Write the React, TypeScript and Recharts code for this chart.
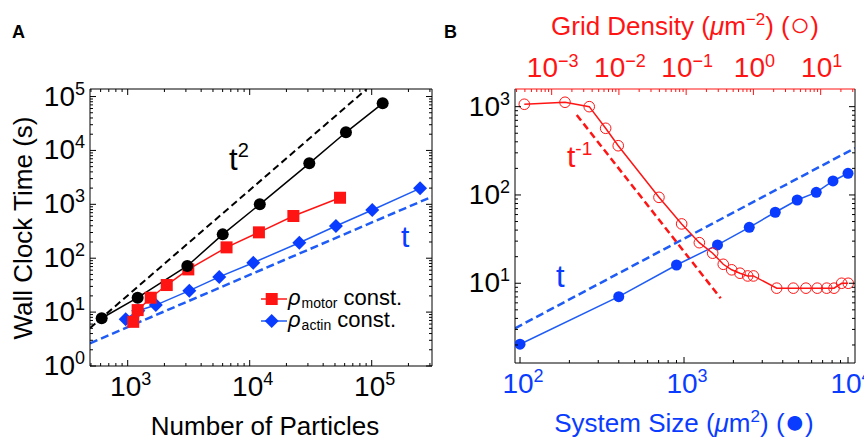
import React from "react";
import { ComposedChart, Line, XAxis, YAxis } from "recharts";

const FONT = "'Liberation Sans', Arial, Helvetica, sans-serif";
const RED = "#ff1414";
const BLUE = "#0a3cff";
const BLUE_LINE = "#1f5cf5";

// Panel A: wall clock time (s) vs number of particles
const quadN = [612, 1207, 3080, 6010, 12100, 30800, 61500, 123000];
const quadTime = [7.7, 18.5, 71.7, 277, 1000, 5760, 21700, 74800];
const motorN = [1110, 1207, 1545, 2090, 3140, 6460, 11900, 22800, 55000];
const motorTime = [6.6, 10.9, 18.5, 31.8, 62, 159, 302, 607, 1325];
const actinN = [963, 1220, 1700, 3200, 5630, 10700, 25500, 50900, 101000, 249000];
const actinTime = [7.4, 10.6, 13.5, 25, 45, 82.5, 194, 396, 784, 1980];
const squareGuideN = [491, 91000];
const squareGuideTime = [5.07, 138000];
const linearGuideN = [491, 312000];
const linearGuideTime = [2.64, 1384];

// Panel B: wall clock time vs system size (bottom) and grid density (top)
const systemSize = [100, 400, 900, 1600, 2500, 3600, 4900, 6400, 8100, 10000];
const sizeTime = [2.04, 7.05, 16.1, 27.2, 43, 63.7, 87.7, 107, 144, 176];
const gridDensity = [
  3.92e-4, 1.58e-3, 3.62e-3, 6.35e-3, 9.77e-3, 0.0394, 0.0857, 0.157, 0.248, 0.356, 0.475,
  0.631, 0.822, 1.0, 2.22, 3.92, 6.04, 8.9, 12.3, 15.8, 20.5, 25.7
];
const densityTime = [
  1065, 1122, 1000, 569, 361, 94, 47, 28.8, 21.9, 16.4, 14.2, 13, 12.1, 12.1, 8.8, 8.8, 8.8, 8.8,
  8.8, 8.8, 10, 10
];
const inverseGuideDensity = [2.36e-3, 0.326];
const inverseGuideTime = [805, 6.76];
const sizeGuideArea = [93.2, 11030];
const sizeGuideTime = [3.09, 340];

const domainAx: [number, number] = [491, 312000];
const domainAy: [number, number] = [1, 138000];
const domainBx: [number, number] = [93.2, 11030];
const domainBtop: [number, number] = [2.85e-4, 32.4];
const domainBy: [number, number] = [1.25, 1585];

const pts = (xs: number[], ys: number[]) => xs.map((x, i) => ({ x, y: ys[i] }));

function logTicks([lo, hi]: [number, number]) {
  const out: number[] = [];
  for (let d = Math.floor(Math.log10(lo)); d <= Math.ceil(Math.log10(hi)); d++) {
    for (let k = 1; k <= 9; k++) {
      const v = k * Math.pow(10, d);
      if (v >= lo && v <= hi) out.push(v);
    }
  }
  return out;
}

type Side = "left" | "right" | "top" | "bottom";

function logTick(side: Side, labelColor: string | null, markColor: string) {
  return (props: any) => {
    const { x, y, payload } = props;
    const v = Number(payload.value);
    const lg = Math.log10(v);
    const e = Math.round(lg);
    const major = Math.abs(lg - e) < 1e-6;
    const len = major ? 6 : 3;
    const dx = side === "left" ? len : side === "right" ? -len : 0;
    const dy = side === "bottom" ? -len : side === "top" ? len : 0;
    const exp = e < 0 ? "\u2212" + -e : String(e);
    let label = null;
    if (labelColor && major) {
      const common = { fill: labelColor, fontSize: 28, fontFamily: FONT };
      if (side === "left") {
        label = (
          <text x={x - 5} y={y + 9} textAnchor="end" {...common}>
            10<tspan dy={-11} fontSize={18}>{exp}</tspan>
          </text>
        );
      } else if (side === "bottom") {
        label = (
          <text x={x + 3} y={y + 30} textAnchor="middle" {...common}>
            10<tspan dy={-11} fontSize={18}>{exp}</tspan>
          </text>
        );
      } else if (side === "top") {
        label = (
          <text x={x + 1} y={y - 12} textAnchor="middle" {...common}>
            10<tspan dy={-10} fontSize={18}>{exp}</tspan>
          </text>
        );
      }
    }
    return (
      <g>
        <line x1={x} y1={y} x2={x + dx} y2={y + dy} stroke={markColor} strokeWidth={1} />
        {label}
      </g>
    );
  };
}

const axisCommon = {
  type: "number" as const,
  scale: "log" as const,
  allowDataOverflow: true,
  interval: 0 as const,
  tickSize: 0,
  tickMargin: 0,
  tickLine: false
};

const squareDot = (p: any) => (
  <rect key={`sq${p.index}`} x={p.cx - 6} y={p.cy - 6} width={12} height={12} fill={RED} />
);
const diamondDot = (p: any) => (
  <polygon
    key={`di${p.index}`}
    points={`${p.cx},${p.cy - 7} ${p.cx + 7},${p.cy} ${p.cx},${p.cy + 7} ${p.cx - 7},${p.cy}`}
    fill={BLUE}
  />
);

function PanelA() {
  return (
    <ComposedChart width={434} height={442} margin={{ top: 0, right: 0, bottom: 0, left: 0 }}>
      <XAxis
        {...axisCommon}
        xAxisId="b"
        orientation="bottom"
        dataKey="x"
        domain={domainAx}
        height={76}
        ticks={logTicks(domainAx)}
        axisLine={{ stroke: "#000" }}
        tick={logTick("bottom", "#000", "#000")}
      />
      <XAxis
        {...axisCommon}
        xAxisId="t"
        orientation="top"
        dataKey="x"
        domain={domainAx}
        height={89}
        ticks={logTicks(domainAx)}
        axisLine={{ stroke: "#000" }}
        tick={logTick("top", null, "#000")}
      />
      <YAxis
        {...axisCommon}
        yAxisId="l"
        orientation="left"
        domain={domainAy}
        width={90}
        ticks={logTicks(domainAy)}
        axisLine={{ stroke: "#000" }}
        tick={logTick("left", "#000", "#000")}
      />
      <YAxis
        {...axisCommon}
        yAxisId="r"
        orientation="right"
        domain={domainAy}
        width={2}
        ticks={logTicks(domainAy)}
        axisLine={{ stroke: "#000" }}
        tick={logTick("right", null, "#000")}
      />
      <Line
        xAxisId="b"
        yAxisId="l"
        data={pts(squareGuideN, squareGuideTime)}
        dataKey="y"
        stroke="#000"
        strokeWidth={2}
        strokeDasharray="7 4"
        dot={false}
        activeDot={false}
        isAnimationActive={false}
      />
      <Line
        xAxisId="b"
        yAxisId="l"
        data={pts(linearGuideN, linearGuideTime)}
        dataKey="y"
        stroke={BLUE_LINE}
        strokeWidth={2.5}
        strokeDasharray="8 4"
        dot={false}
        activeDot={false}
        isAnimationActive={false}
      />
      <Line
        xAxisId="b"
        yAxisId="l"
        data={pts(actinN, actinTime)}
        dataKey="y"
        stroke={BLUE_LINE}
        strokeWidth={1.5}
        dot={diamondDot}
        activeDot={false}
        isAnimationActive={false}
      />
      <Line
        xAxisId="b"
        yAxisId="l"
        data={pts(motorN, motorTime)}
        dataKey="y"
        stroke={RED}
        strokeWidth={1.5}
        dot={squareDot}
        activeDot={false}
        isAnimationActive={false}
      />
      <Line
        xAxisId="b"
        yAxisId="l"
        data={pts(quadN, quadTime)}
        dataKey="y"
        stroke="#000"
        strokeWidth={1.5}
        dot={{ r: 6, fill: "#000", stroke: "none" }}
        activeDot={false}
        isAnimationActive={false}
      />
    </ComposedChart>
  );
}

function PanelB() {
  return (
    <ComposedChart width={432} height={442} margin={{ top: 0, right: 0, bottom: 0, left: 0 }}>
      <XAxis
        {...axisCommon}
        xAxisId="b"
        orientation="bottom"
        dataKey="x"
        domain={domainBx}
        height={79}
        ticks={logTicks(domainBx)}
        axisLine={{ stroke: "#000" }}
        tick={logTick("bottom", BLUE, "#000")}
      />
      <XAxis
        {...axisCommon}
        xAxisId="t"
        orientation="top"
        dataKey="x"
        domain={domainBtop}
        height={89}
        ticks={logTicks(domainBtop)}
        axisLine={{ stroke: RED }}
        tick={logTick("top", RED, RED)}
      />
      <YAxis
        {...axisCommon}
        yAxisId="l"
        orientation="left"
        domain={domainBy}
        width={83}
        ticks={logTicks(domainBy)}
        axisLine={{ stroke: "#000" }}
        tick={logTick("left", "#000", "#000")}
      />
      <YAxis
        {...axisCommon}
        yAxisId="r"
        orientation="right"
        domain={domainBy}
        width={9}
        ticks={logTicks(domainBy)}
        axisLine={{ stroke: "#000" }}
        tick={logTick("right", null, "#000")}
      />
      <Line
        xAxisId="b"
        yAxisId="l"
        data={pts(sizeGuideArea, sizeGuideTime)}
        dataKey="y"
        stroke={BLUE_LINE}
        strokeWidth={2.5}
        strokeDasharray="8 4"
        dot={false}
        activeDot={false}
        isAnimationActive={false}
      />
      <Line
        xAxisId="t"
        yAxisId="l"
        data={pts(inverseGuideDensity, inverseGuideTime)}
        dataKey="y"
        stroke={RED}
        strokeWidth={2.5}
        strokeDasharray="7 4"
        dot={false}
        activeDot={false}
        isAnimationActive={false}
      />
      <Line
        xAxisId="b"
        yAxisId="l"
        data={pts(systemSize, sizeTime)}
        dataKey="y"
        stroke={BLUE_LINE}
        strokeWidth={1.5}
        dot={{ r: 5.5, fill: BLUE, stroke: "none" }}
        activeDot={false}
        isAnimationActive={false}
      />
      <Line
        xAxisId="t"
        yAxisId="l"
        data={pts(gridDensity, densityTime)}
        dataKey="y"
        stroke={RED}
        strokeWidth={1.5}
        dot={{ r: 5.3, fill: "none", stroke: RED, strokeWidth: 1 }}
        activeDot={false}
        isAnimationActive={false}
      />
    </ComposedChart>
  );
}

function Annotations() {
  const t = { fontFamily: FONT };
  return (
    <svg width={864} height={442} style={{ position: "absolute", left: 0, top: 0, pointerEvents: "none" }}>
      <text x={12} y={38} fontSize={18} fontWeight="bold" {...t}>A</text>
      <text x={444} y={38} fontSize={18} fontWeight="bold" {...t}>B</text>

      <text transform="translate(32,228) rotate(-90)" textAnchor="middle" fontSize={26} {...t}>
        Wall Clock Time (s)
      </text>
      <text x={265} y={435} textAnchor="middle" fontSize={26} {...t}>Number of Particles</text>

      <text x={229} y={170} fontSize={31} {...t}>
        t<tspan dy={-13} fontSize={20}>2</tspan>
      </text>
      <text x={401} y={247} fontSize={30} fill={BLUE} {...t}>t</text>

      <line x1={261} y1={299} x2={287} y2={299} stroke={RED} strokeWidth={1.5} />
      <rect x={265.7} y={293} width={12} height={12} fill={RED} />
      <text x={288} y={305} fontSize={22} {...t}>
        <tspan fontStyle="italic">ρ</tspan>
        <tspan dx={1} dy={3} fontSize={14}>motor</tspan>
        <tspan dy={-3}> const.</tspan>
      </text>
      <line x1={261} y1={321} x2={287} y2={321} stroke={BLUE_LINE} strokeWidth={1.5} />
      <polygon points="271.7,314 278.7,321 271.7,328 264.7,321" fill={BLUE} />
      <text x={288} y={327} fontSize={22} {...t}>
        <tspan fontStyle="italic">ρ</tspan>
        <tspan dx={1} dy={3} fontSize={14}>actin</tspan>
        <tspan dy={-3}> const.</tspan>
      </text>

      <text x={685} y={35} textAnchor="middle" fontSize={26} fill={RED} {...t}>
        Grid Density (<tspan fontStyle="italic">μ</tspan>m<tspan dy={-10} fontSize={17}>−2</tspan>
        <tspan dy={10}>) (</tspan>
        <tspan fontSize={34} dy={1}>○</tspan>
        <tspan dy={-1}>)</tspan>
      </text>
      <text x={684} y={432} textAnchor="middle" fontSize={26} fill={BLUE} {...t}>
        System Size (<tspan fontStyle="italic">μ</tspan>m<tspan dy={-10} fontSize={17}>2</tspan>
        <tspan dy={10}>) (</tspan>
        <tspan fontSize={34} dy={1}>●</tspan>
        <tspan dy={-1}>)</tspan>
      </text>

      <text x={567} y={167} fontSize={30} fill={RED} {...t}>
        t<tspan dy={-12} fontSize={19}>-1</tspan>
      </text>
      <text x={556} y={287} fontSize={31} fill={BLUE} {...t}>t</text>
    </svg>
  );
}

export default function App() {
  return (
    <div
      style={{
        position: "absolute",
        left: 0,
        top: 0,
        width: 864,
        height: 442,
        overflow: "hidden",
        background: "#fff",
        fontFamily: FONT
      }}
    >
      <div style={{ position: "absolute", left: 0, top: 0 }}>
        <PanelA />
      </div>
      <div style={{ position: "absolute", left: 432, top: 0 }}>
        <PanelB />
      </div>
      <Annotations />
    </div>
  );
}
